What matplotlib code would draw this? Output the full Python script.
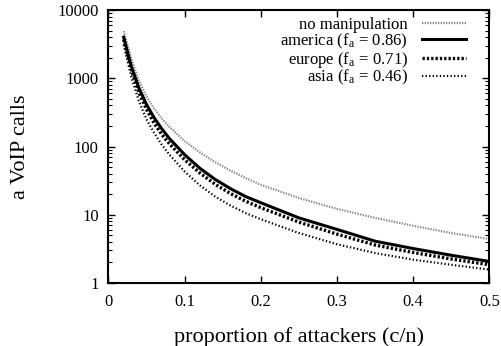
import matplotlib
matplotlib.use('Agg')
import matplotlib.pyplot as plt
from matplotlib.ticker import FixedLocator, LogLocator, NullFormatter

plt.rcParams['font.family'] = ['Liberation Serif', 'DejaVu Serif']
plt.rcParams['mathtext.fontset'] = 'stix'

# proportion of attackers (c/n)
x = [0.02, 0.03, 0.04, 0.05, 0.06, 0.07, 0.08, 0.10, 0.12, 0.14, 0.16,
     0.18, 0.20, 0.25, 0.30, 0.35, 0.40, 0.45, 0.50]
# VoIP calls
no_manip = [4900, 1950, 920, 540, 360, 258, 194, 120, 82, 59, 44.5,
            34.6, 27.5, 17.6, 12.2, 9.0, 6.9, 5.4, 4.4]
america = [4000, 1500, 720, 412, 264, 182, 131, 76, 48, 33, 24.2,
           18.5, 15.0, 9.0, 6.1, 4.1, 3.2, 2.55, 2.07]
europe = [3700, 1350, 620, 350, 220, 150, 110, 64, 41, 28, 20.5,
          15.8, 12.7, 7.8, 5.2, 3.6, 2.8, 2.25, 1.85]
asia = [3100, 1050, 460, 250, 158, 106, 76, 43, 27, 18.5, 13.7,
        10.6, 8.6, 5.4, 3.7, 2.75, 2.2, 1.85, 1.57]

fig = plt.figure(figsize=(5.02, 3.46), dpi=100)
ax = fig.add_axes([0.216, 0.182, 0.759, 0.789])

ax.plot(x, no_manip, color='#888888', lw=1.6, ls=(0, (0.6, 0.6)), label='no manipulation')
ax.plot(x, america, color='black', lw=2.2, ls='-', label=r'america (f$_\mathregular{a}$ = 0.86)')
ax.plot(x, europe, color='black', lw=2.4, ls=(0, (0.7, 0.6)), label=r'europe (f$_\mathregular{a}$ = 0.71)')
ax.plot(x, asia, color='black', lw=1.6, ls=(0, (0.6, 1.0)), label=r'asia (f$_\mathregular{a}$ = 0.46)')

ax.set_yscale('log')
ax.set_xlim(0, 0.5)
ax.set_ylim(1, 10000)
ax.xaxis.set_major_locator(FixedLocator([0, 0.1, 0.2, 0.3, 0.4, 0.5]))
ax.set_xticklabels(['0', '0.1', '0.2', '0.3', '0.4', '0.5'])
ax.yaxis.set_major_locator(FixedLocator([1, 10, 100, 1000, 10000]))
ax.set_yticklabels(['1', '10', '100', '1000', '10000'])
ax.yaxis.set_minor_locator(LogLocator(base=10, subs=range(2, 10)))
ax.yaxis.set_minor_formatter(NullFormatter())
ax.tick_params(which='both', direction='in', top=True, right=True, labelsize=12)
ax.tick_params(which='major', length=5, width=1)
ax.tick_params(which='minor', length=3, width=0.8)
ax.tick_params(axis='x', pad=8)
ax.tick_params(axis='y', pad=7)
for s in ax.spines.values():
    s.set_linewidth(1.5)

ax.set_xlabel('proportion of attackers (c/n)', fontsize=16, labelpad=12)
ax.set_ylabel('a VoIP calls', fontsize=16, labelpad=20)

ax.legend(loc='upper right', bbox_to_anchor=(0.957, 0.999), borderaxespad=0,
          frameon=False, markerfirst=False, fontsize=12,
          handlelength=2.65, handletextpad=0.85, labelspacing=-0.08)

fig.savefig('out.png', dpi=100)
